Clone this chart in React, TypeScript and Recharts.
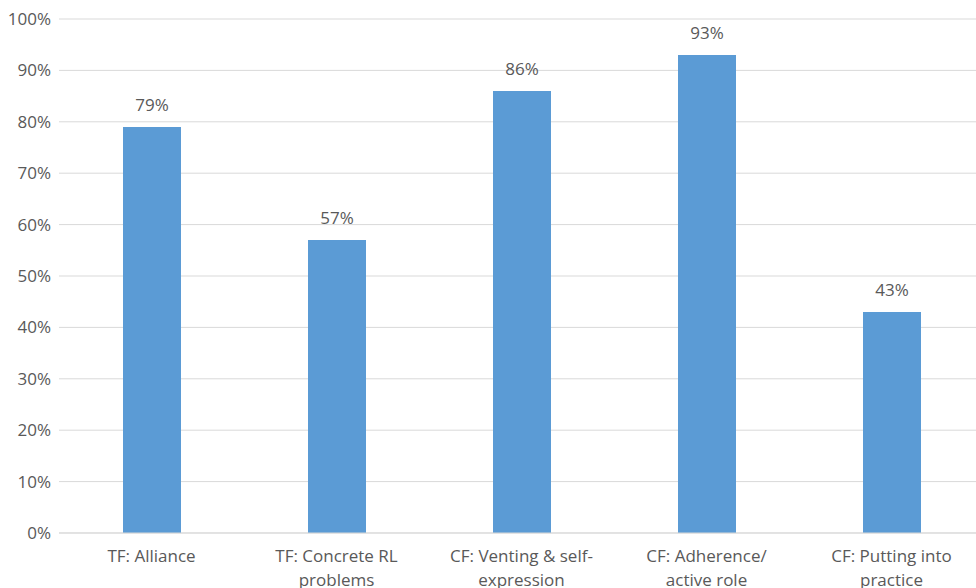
import { Bar, BarChart, CartesianGrid, LabelList, XAxis, YAxis } from "recharts"

const categories = [
  "TF: Alliance",
  "TF: Concrete RL\nproblems",
  "CF: Venting & self-\nexpression",
  "CF: Adherence/\nactive role",
  "CF: Putting into\npractice",
]
const percentages = [79, 57, 86, 93, 43]
const yTicks = [0, 10, 20, 30, 40, 50, 60, 70, 80, 90, 100]

const data = categories.map((name, i) => ({ name, value: percentages[i] }))

const FONT = "'Open Sans', Lato, sans-serif"
const TEXT = "#595959"
const SIZE = 17

function CategoryTick({ x, y, payload }: any) {
  const lines = String(payload.value).split("\n")
  return (
    <text x={x} y={y} textAnchor="middle" fill={TEXT} fontSize={SIZE} fontFamily={FONT}>
      {lines.map((line, i) => (
        <tspan key={i} x={x} dy={i === 0 ? 21 : 24}>
          {line}
        </tspan>
      ))}
    </text>
  )
}

export default function App() {
  return (
    <div
      style={{
        position: "absolute",
        left: 0,
        top: 0,
        width: 976,
        height: 588,
        overflow: "hidden",
        background: "#fff",
      }}
    >
      <style>{`body{margin:0}`}</style>
      <BarChart
        width={984}
        height={588}
        data={data}
        margin={{ top: 19, right: 0, bottom: 0, left: 0 }}
      >
        <CartesianGrid vertical={false} stroke="#d9d9d9" />
        <XAxis
          dataKey="name"
          height={55}
          axisLine={{ stroke: "#d9d9d9" }}
          tickLine={false}
          interval={0}
          tick={<CategoryTick />}
        />
        <YAxis
          width={59}
          domain={[0, 100]}
          ticks={yTicks}
          axisLine={false}
          tickLine={false}
          tickFormatter={(v: number) => `${v}%`}
          tick={{ fill: TEXT, fontSize: SIZE, fontFamily: FONT }}
        />
        <Bar dataKey="value" fill="#5B9BD5" barSize={58} isAnimationActive={false}>
          <LabelList
            dataKey="value"
            position="top"
            offset={16}
            formatter={(v: number) => `${v}%`}
            fill={TEXT}
            fontSize={SIZE}
            fontFamily={FONT}
          />
        </Bar>
      </BarChart>
    </div>
  )
}
